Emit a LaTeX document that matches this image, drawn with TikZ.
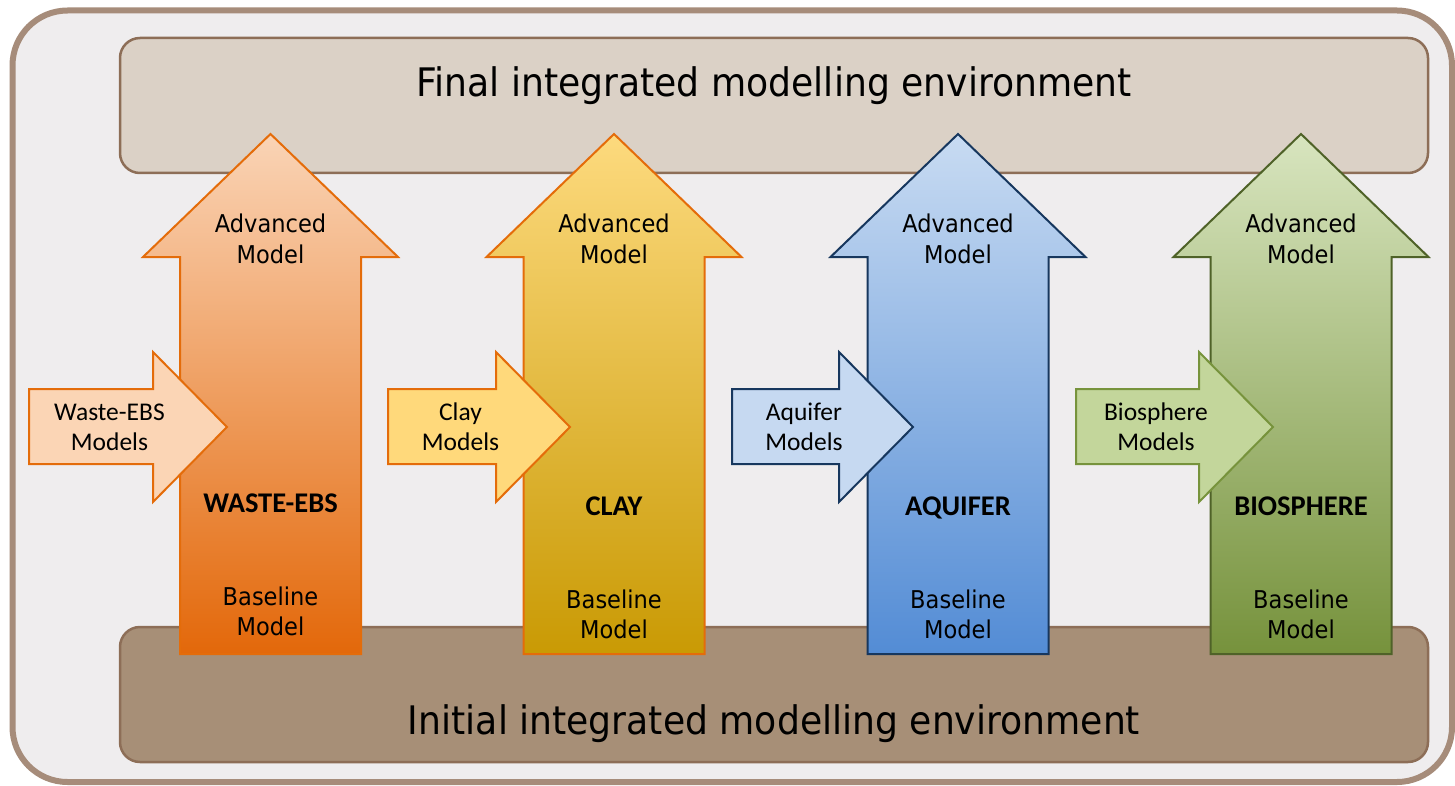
\documentclass[tikz,border=0pt]{standalone}
\usepackage{fontspec}
\newfontfamily\labelfont{DejaVu Sans}[FakeStretch=0.92]
\newfontfamily\calfont{Carlito}

% panel colours
\definecolor{frameline}{HTML}{A68C7A}
\definecolor{framefill}{HTML}{EFEDEE}
\definecolor{envline}{HTML}{8D6E57}
\definecolor{finalfill}{HTML}{DBD1C6}
\definecolor{initfill}{HTML}{A78F77}
% waste-ebs
\definecolor{orTop}{HTML}{FAD4B6}
\definecolor{orBot}{HTML}{E3680A}
\definecolor{orLine}{HTML}{E46C0A}
\definecolor{orSide}{HTML}{FBD5B5}
% clay
\definecolor{clTop}{HTML}{FDDA7E}
\definecolor{clBot}{HTML}{C99A04}
\definecolor{clLine}{HTML}{E46C0A}
\definecolor{clSide}{HTML}{FFD97B}
% aquifer
\definecolor{aqTop}{HTML}{C8DBF2}
\definecolor{aqBot}{HTML}{538CD5}
\definecolor{aqLine}{HTML}{17375E}
\definecolor{aqSide}{HTML}{C6D9F1}
% biosphere
\definecolor{biTop}{HTML}{D8E5BF}
\definecolor{biBot}{HTML}{76923C}
\definecolor{biLine}{HTML}{4F6228}
\definecolor{biSide}{HTML}{C3D69B}
\definecolor{biSideLine}{HTML}{77933C}

\begin{document}
\begin{tikzpicture}[x=1pt,y=-1pt,
  frame/.style={draw=frameline,line width=6,fill=framefill,rounded corners=55},
  envbox/.style={draw=envline,line width=2.5,rounded corners=20},
  envtext/.style={font=\labelfont\fontsize{39.3}{47}\selectfont,anchor=base,inner sep=0},
  armtext/.style={font=\labelfont\fontsize{24.5}{30}\selectfont,anchor=base,inner sep=0},
  sidetext/.style={font=\calfont\fontsize{25.5}{30}\selectfont,anchor=base,inner sep=0},
  boldtext/.style={font=\calfont\bfseries\fontsize{28.5}{34}\selectfont,anchor=base,inner sep=0},
  upbody/.style={line width=2,line join=miter},
  sidebody/.style={line width=2,line join=miter}]
\useasboundingbox (0,0) rectangle (1455,786);
\fill[white] (0,0) rectangle (1455,786);

% outer frame and the two environment bands
\draw[frame] (12.5,10.5) rectangle (1452,782);
\draw[envbox,fill=finalfill] (120,38) rectangle (1428,173);
\draw[envbox,fill=initfill] (120,627) rectangle (1428,762);
\node[envtext] (final) at (774,97) {Final integrated modelling environment};
\node[envtext] (initial) at (774,734) {Initial integrated modelling environment};

% upward arrows: centre / top colour / bottom colour / outline / name / label / label baseline / lower text baseline
\foreach \c/\tc/\bc/\dc/\n/\lab/\lb/\bb in {
   270.5/orTop/orBot/orLine/w/WASTE-EBS/512/605,
   614/clTop/clBot/clLine/c/CLAY/515/608,
   958/aqTop/aqBot/aqLine/a/AQUIFER/515/608,
   1301/biTop/biBot/biLine/b/BIOSPHERE/515/608}{
  \draw[upbody,draw=\dc,top color=\tc,bottom color=\bc]
    (\c,134) -- ({\c+127.5},257) -- ({\c+90.5},257) -- ({\c+90.5},654)
    -- ({\c-90.5},654) -- ({\c-90.5},257) -- ({\c-127.5},257) -- cycle;
  \node[armtext] (adv-\n-1) at (\c,233) {Advanced};
  \node[armtext] (adv-\n-2) at (\c,263) {Model};
  \node[boldtext] (name-\n) at (\c,\lb) {\lab};
  \node[armtext] (base-\n-1) at (\c,\bb) {Baseline};
  \node[armtext] (base-\n-2) at (\c,{\bb+30}) {Model};
}

% incoming model arrows: tail x / head base x / tip x / fill / outline / text centre / name / first line
\foreach \l/\h/\t/\fc/\dc/\tx/\n/\first in {
   29/153/227/orSide/orLine/109.5/w/Waste-EBS,
   388/496/570/clSide/clLine/460.5/c/Clay,
   732/839/913/aqSide/aqLine/804/a/Aquifer,
   1076/1199/1273/biSide/biSideLine/1156/b/Biosphere}{
  \draw[sidebody,draw=\dc,fill=\fc]
    (\l,389) -- (\h,389) -- (\h,352) -- (\t,427) -- (\h,502) -- (\h,464)
    -- (\l,464) -- cycle;
  \node[sidetext] (in-\n-1) at (\tx,420) {\first};
  \node[sidetext] (in-\n-2) at (\tx,450) {Models};
}
\end{tikzpicture}
\end{document}
